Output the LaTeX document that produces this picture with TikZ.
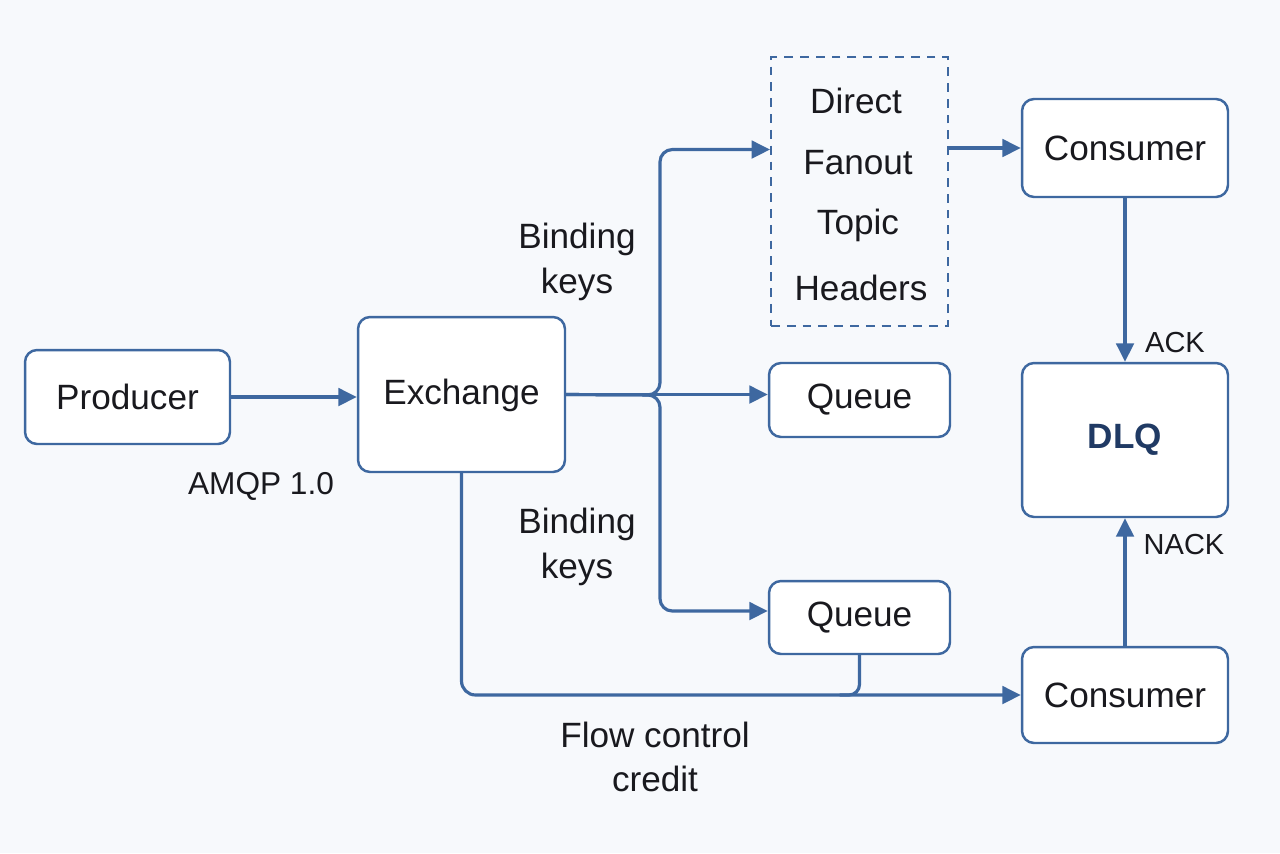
\documentclass[tikz,border=0pt]{standalone}
\usepackage{fontspec}
\setmainfont{Liberation Sans}
\usetikzlibrary{arrows.meta,calc}
\definecolor{ln}{RGB}{62,104,160}
\definecolor{bg}{RGB}{247,249,252}
\definecolor{tx}{RGB}{25,25,30}
\definecolor{dlq}{RGB}{32,58,100}
\tikzset{
  box/.style={draw=ln, line width=1.4pt, rounded corners=0.24cm, fill=white, text=tx, font=\fontsize{20}{24}\selectfont, inner sep=0pt},
  conn/.style={draw=ln, line width=1.8pt},
  arr/.style={conn, -{Triangle[length=10.5pt,width=10pt]}},
  lbl/.style={text=tx, font=\fontsize{20}{24}\selectfont, align=center, inner sep=0pt},
  small/.style={text=tx, font=\fontsize{16.5}{20}\selectfont, inner sep=0pt},
}
\begin{document}
\begin{tikzpicture}[x=0.02cm,y=-0.02cm]
\fill[bg] (0,0) rectangle (1280,853);
\useasboundingbox (0,0) rectangle (1280,853);
\node[box, minimum width=4.1cm, minimum height=1.88cm] (prod) at (127.5,397) {Producer};
\node[box, minimum width=4.14cm, minimum height=3.1cm, text depth=0.12cm] (ex) at (461.5,394.5) {Exchange};
\node[draw=ln, line width=1.1pt, dash pattern=on 5pt off 4pt, minimum width=3.54cm, minimum height=5.38cm, inner sep=0pt] (dash) at (859.5,191.5) {};
\node[lbl] (t1) at (856,101) {Direct};
\node[lbl] (t2) at (858,163) {Fanout};
\node[lbl] (t3) at (858,225) {Topic};
\node[lbl] (t4) at (861,288) {Headers};
\node[box, minimum width=3.62cm, minimum height=1.48cm] (q1) at (859.5,400) {Queue};
\node[box, minimum width=3.62cm, minimum height=1.46cm] (q2) at (859.5,617.5) {Queue};
\node[box, minimum width=4.12cm, minimum height=1.96cm] (c1) at (1125,148) {Consumer};
\node[box, minimum width=4.12cm, minimum height=3.08cm, text=dlq, font=\fontsize{20}{24}\selectfont\bfseries] (dlq) at (1125,440) {DLQ};
\node[box, minimum width=4.12cm, minimum height=1.92cm] (c2) at (1125,695) {Consumer};
\node[lbl, font=\fontsize{20}{26}\selectfont] (bk1) at (577,262) {Binding\\keys};
\node[lbl, font=\fontsize{20}{26}\selectfont] (bk2) at (577,547) {Binding\\keys};
\node[lbl, font=\fontsize{18}{22}\selectfont] (amqp) at (261,486) {AMQP 1.0};
\node[lbl, font=\fontsize{20}{25}\selectfont] (flow) at (655,757) {Flow control\\credit};
\node[small] (ack) at (1175,343) {ACK};
\node[small] (nack) at (1184,545) {NACK};
\coordinate (br) at (660,395);
\draw[arr] (prod.east) -- (prod.east -| ex.west);
\draw[arr] (ex.east) -- (ex.east -| q1.west);
\draw[arr, rounded corners=7pt] (ex.east) -- (br) |- ($(dash.north west)!0.345!(dash.south west)$);
\draw[arr, rounded corners=7pt] (ex.east) -- (br) |- ([yshift=0.13cm]q2.west);
\draw[arr] (dash.east |- c1.west) -- (c1.west);
\draw[arr] (c1.south) -- (dlq.north);
\draw[arr] (c2.north) -- (dlq.south);
\coordinate (jn) at (q2.south |- c2.west);
\draw[arr, rounded corners=8pt] (ex.south) |- (c2.west);
\draw[conn, rounded corners=6pt] (q2.south) -- (jn) -- ([xshift=-0.4cm]jn);
\end{tikzpicture}
\end{document}
